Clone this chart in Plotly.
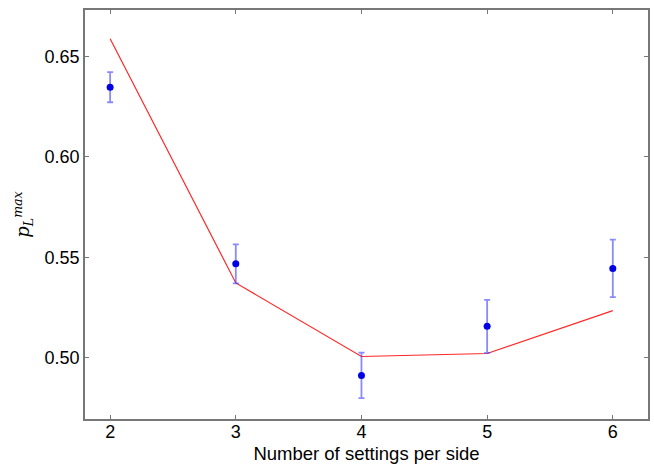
import plotly.graph_objects as go

settings = [2, 3, 4, 5, 6]
measured = [0.6346, 0.5467, 0.4912, 0.5156, 0.5444]
errors = [0.0075, 0.0097, 0.0113, 0.0132, 0.0143]
model = [0.6587, 0.5372, 0.5006, 0.5021, 0.5234]

fig = go.Figure()
fig.add_trace(go.Scatter(
    x=settings, y=model, mode="lines",
    line=dict(color="rgb(255,40,40)", width=1.2),
    showlegend=False, hoverinfo="skip"))
fig.add_trace(go.Scatter(
    x=settings, y=measured, mode="markers",
    marker=dict(color="rgb(0,0,230)", size=7),
    error_y=dict(type="data", array=errors, visible=True,
                 color="rgba(60,60,255,0.6)", thickness=1.8, width=3),
    showlegend=False))

axis_common = dict(
    showline=True, mirror="ticks", linecolor="#777777", linewidth=1.5,
    ticks="inside", ticklen=4, tickcolor="#777777", tickwidth=1,
    showgrid=False, zeroline=False, automargin=False,
    tickfont=dict(family="Liberation Sans, Arial", size=18, color="black"),
)

fig.update_layout(
    width=654, height=464,
    margin=dict(l=85, r=6, t=10, b=45),
    paper_bgcolor="white", plot_bgcolor="white",
    xaxis=dict(range=[1.8, 6.28], tickvals=settings, ticktext=["2", "3", "4", "5", "6"],
               ticklabelstandoff=-4,
               title=dict(text="Number of settings per side", standoff=8,
                          font=dict(family="Liberation Sans, Arial", size=18.5, color="black")),
               **axis_common),
    yaxis=dict(range=[0.4695, 0.673], tickvals=[0.50, 0.55, 0.60, 0.65],
               ticktext=["0.50", "0.55", "0.60", "0.65"],
               title=dict(text="<i>p</i><sub><i>L</i></sub><sup><i>max</i></sup>", standoff=10,
                          font=dict(family="DejaVu Serif", size=18, color="black")),
               **axis_common),
)

fig.write_html("out.html", config={"displayModeBar": False},
               post_script="document.body.style.margin='0px';document.body.style.overflow='hidden';")
